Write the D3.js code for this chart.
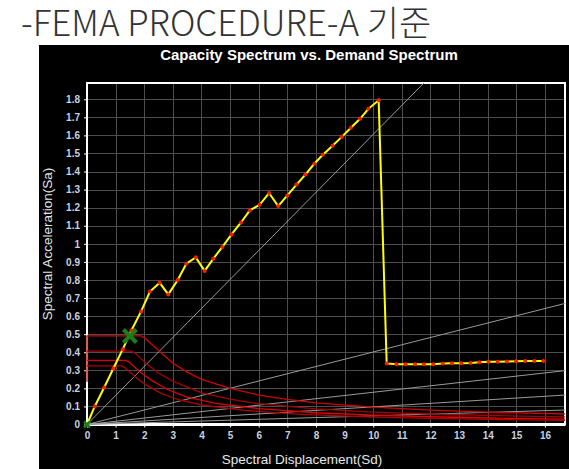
<!DOCTYPE html>
<html><head><meta charset="utf-8">
<script src="https://cdn.jsdelivr.net/npm/d3@7"></script>
<style>html,body{margin:0;padding:0;background:#fff;}svg{display:block}</style>
</head><body><svg id="chart" width="569" height="469"></svg>
<script>
// Capacity curve (spectral displacement / spectral acceleration)
const capSd = [0, 0.27, 0.60, 0.92, 1.25, 1.55, 1.89, 2.20, 2.54, 2.84, 3.17, 3.47, 3.80, 4.11, 4.41, 4.73, 5.05, 5.38, 5.69, 6.03, 6.36, 6.68, 7.00, 7.32, 7.63, 7.94, 8.24, 8.58, 8.90, 9.22, 9.54, 9.83, 10.19,
  10.47, 10.81, 11.13, 11.46, 11.77, 12.10, 12.43, 12.75, 13.08, 13.40, 13.71, 14.03, 14.35, 14.67, 14.99, 15.31, 15.63, 15.94];
const capSa = [0, 0.10, 0.205, 0.31, 0.417, 0.52, 0.626, 0.736, 0.784, 0.72, 0.80, 0.89, 0.925, 0.85, 0.917, 0.983, 1.052, 1.118, 1.185, 1.216, 1.281, 1.209, 1.268, 1.328, 1.383, 1.443, 1.493, 1.543, 1.592, 1.642, 1.692, 1.747, 1.794,
  0.338, 0.334, 0.334, 0.334, 0.334, 0.334, 0.338, 0.339, 0.339, 0.341, 0.345, 0.347, 0.347, 0.349, 0.350, 0.352, 0.352, 0.352];

// Demand spectra for several damping levels
const demandSd = [
  [0, 0, 1.90, 2.05, 2.25, 2.55, 3.00, 3.50, 4.00, 5.00, 6.00, 7.00, 8.00, 10.0, 12.0, 14.0, 16.7],
  [0, 1.55, 1.68, 1.85, 2.10, 2.50, 3.00, 4.00, 5.00, 6.00, 8.00, 10.0, 12.0, 14.0, 16.7],
  [0, 1.36, 1.48, 1.65, 1.90, 2.30, 2.80, 3.50, 4.50, 6.00, 8.00, 10.0, 12.0, 14.0, 16.7],
  [0, 1.20, 1.32, 1.50, 1.75, 2.10, 2.60, 3.20, 4.00, 5.50, 7.50, 10.0, 12.0, 14.0, 16.7]
];
const demandSa = [
  [0.236, 0.49, 0.49, 0.475, 0.445, 0.403, 0.339, 0.29, 0.25, 0.20, 0.163, 0.139, 0.12, 0.096, 0.08, 0.068, 0.058],
  [0.406, 0.406, 0.395, 0.37, 0.333, 0.285, 0.24, 0.175, 0.14, 0.115, 0.087, 0.069, 0.058, 0.05, 0.042],
  [0.355, 0.355, 0.345, 0.32, 0.285, 0.24, 0.195, 0.152, 0.117, 0.088, 0.065, 0.052, 0.043, 0.036, 0.030],
  [0.325, 0.325, 0.315, 0.29, 0.255, 0.215, 0.172, 0.137, 0.108, 0.078, 0.056, 0.041, 0.034, 0.029, 0.023]
];
const demandColors = ["#d40000", "#a80000", "#e00000", "#b00000"];

// Constant-period radial lines from the origin (end points)
const periodSd = [11.77, 16.7, 16.7, 16.7, 16.7];
const periodSa = [1.89, 0.67, 0.298, 0.163, 0.08];

// Performance point
const perfSd = 1.5, perfSa = 0.49;

const xTicks = d3.range(0, 17);
const yTicks = [0, 0.1, 0.2, 0.3, 0.4, 0.5, 0.6, 0.7, 0.8, 0.9, 1, 1.1, 1.2, 1.3, 1.4, 1.5, 1.6, 1.7, 1.8];

const svg = d3.select("#chart");

// heading above the chart panel
svg.append("text")
  .attr("x", 21).attr("y", 36)
  .attr("font-family", "'Noto Sans CJK KR', 'Noto Sans', sans-serif")
  .attr("font-weight", 300)
  .attr("font-size", 35)
  .attr("fill", "#333")
  .text("-FEMA PROCEDURE-A 기준");

// black chart panel
svg.append("rect").attr("x", 39).attr("y", 45).attr("width", 530).attr("height", 424).attr("fill", "#000");

const x = d3.scaleLinear().domain([0, 16.7]).range([87, 565]);
const y = d3.scaleLinear().domain([0, 1.89]).range([424.5, 83]);

svg.append("text")
  .attr("x", 309).attr("y", 60)
  .attr("text-anchor", "middle")
  .attr("font-family", "'Liberation Sans', Arial, sans-serif")
  .attr("font-weight", "bold").attr("font-size", 15)
  .attr("fill", "#fff")
  .text("Capacity Spectrum vs. Demand Spectrum");

// grid
const grid = svg.append("g").attr("stroke", "#4d4d4d").attr("stroke-width", 1);
grid.selectAll("line.v").data(xTicks.filter(d => d > 0)).join("line")
  .attr("x1", d => Math.round(x(d)) + 0.5).attr("x2", d => Math.round(x(d)) + 0.5)
  .attr("y1", y.range()[1]).attr("y2", y.range()[0]);
grid.selectAll("line.h").data(yTicks.filter(d => d > 0)).join("line")
  .attr("y1", d => Math.round(y(d)) + 0.5).attr("y2", d => Math.round(y(d)) + 0.5)
  .attr("x1", x.range()[0]).attr("x2", x.range()[1]);

// axes
const tickColor = "#c9d1e0";
const xAxis = d3.axisBottom(x).tickValues(xTicks).tickFormat(d3.format("d")).tickSize(3).tickPadding(4);
const gx = svg.append("g").attr("transform", `translate(0,${y(0)})`).call(xAxis);
const yAxis = d3.axisLeft(y).tickValues(yTicks).tickFormat(d => String(d)).tickSize(3).tickPadding(4);
const gy = svg.append("g").attr("transform", `translate(${x(0)},0)`).call(yAxis);
[gx, gy].forEach(g => {
  g.select(".domain").remove();
  g.selectAll(".tick line").attr("stroke", "#fff");
  g.selectAll(".tick text").attr("fill", tickColor)
    .attr("font-family", "'Liberation Sans', Arial, sans-serif")
    .attr("font-weight", "bold").attr("font-size", 10);
});

// plot frame
svg.append("rect")
  .attr("x", x(0)).attr("y", y.range()[1])
  .attr("width", x.range()[1] - x(0)).attr("height", y(0) - y.range()[1])
  .attr("fill", "none").attr("stroke", "#fff").attr("stroke-width", 2);
svg.append("line").attr("x1", x(0)).attr("x2", x.range()[1]).attr("y1", y(0)).attr("y2", y(0))
  .attr("stroke", "#fff").attr("stroke-width", 3);

// constant-period lines
svg.append("g").selectAll("line").data(periodSd).join("line")
  .attr("x1", x(0)).attr("y1", y(0))
  .attr("x2", d => x(d)).attr("y2", (d, i) => y(periodSa[i]))
  .attr("stroke", "#9a9a9a").attr("stroke-width", 1);

// demand spectra
const lineLin = d3.line().x(d => x(d[0])).y(d => y(d[1]));
svg.append("g").selectAll("path").data(demandSd).join("path")
  .attr("d", (sd, i) => lineLin(sd.map((v, j) => [v, demandSa[i][j]])))
  .attr("fill", "none").attr("stroke", (d, i) => demandColors[i]).attr("stroke-width", 1.3)
  .attr("stroke-linejoin", "round");

// capacity spectrum
const capPts = capSd.map((v, i) => [v, capSa[i]]);
svg.append("path").attr("d", lineLin(capPts))
  .attr("fill", "none").attr("stroke", "#ffff00").attr("stroke-width", 2);
svg.append("g").selectAll("circle").data(capPts.slice(1)).join("circle")
  .attr("cx", d => x(d[0])).attr("cy", d => y(d[1])).attr("r", 2)
  .attr("fill", "#ff1a00");

// performance point markers
function cross(cx, cy, s, w) {
  const g = svg.append("g").attr("stroke", "#1a7f1a").attr("stroke-width", w).attr("stroke-linecap", "butt");
  g.append("line").attr("x1", cx - s).attr("y1", cy - s).attr("x2", cx + s).attr("y2", cy + s);
  g.append("line").attr("x1", cx - s).attr("y1", cy + s).attr("x2", cx + s).attr("y2", cy - s);
}
cross(x(0), y(0), 3, 2.5);
cross(x(perfSd), y(perfSa), 6.5, 4);

// axis titles
svg.append("text")
  .attr("x", 302).attr("y", 464)
  .attr("text-anchor", "middle")
  .attr("font-family", "'Liberation Sans', Arial, sans-serif").attr("font-size", 13.5)
  .attr("fill", "#e6e6e6")
  .text("Spectral Displacement(Sd)");
svg.append("text")
  .attr("transform", "translate(52,244) rotate(-90)")
  .attr("text-anchor", "middle")
  .attr("font-family", "'Liberation Sans', Arial, sans-serif").attr("font-size", 13.5)
  .attr("fill", "#e6e6e6")
  .text("Spectral Acceleration(Sa)");
</script></body></html>
